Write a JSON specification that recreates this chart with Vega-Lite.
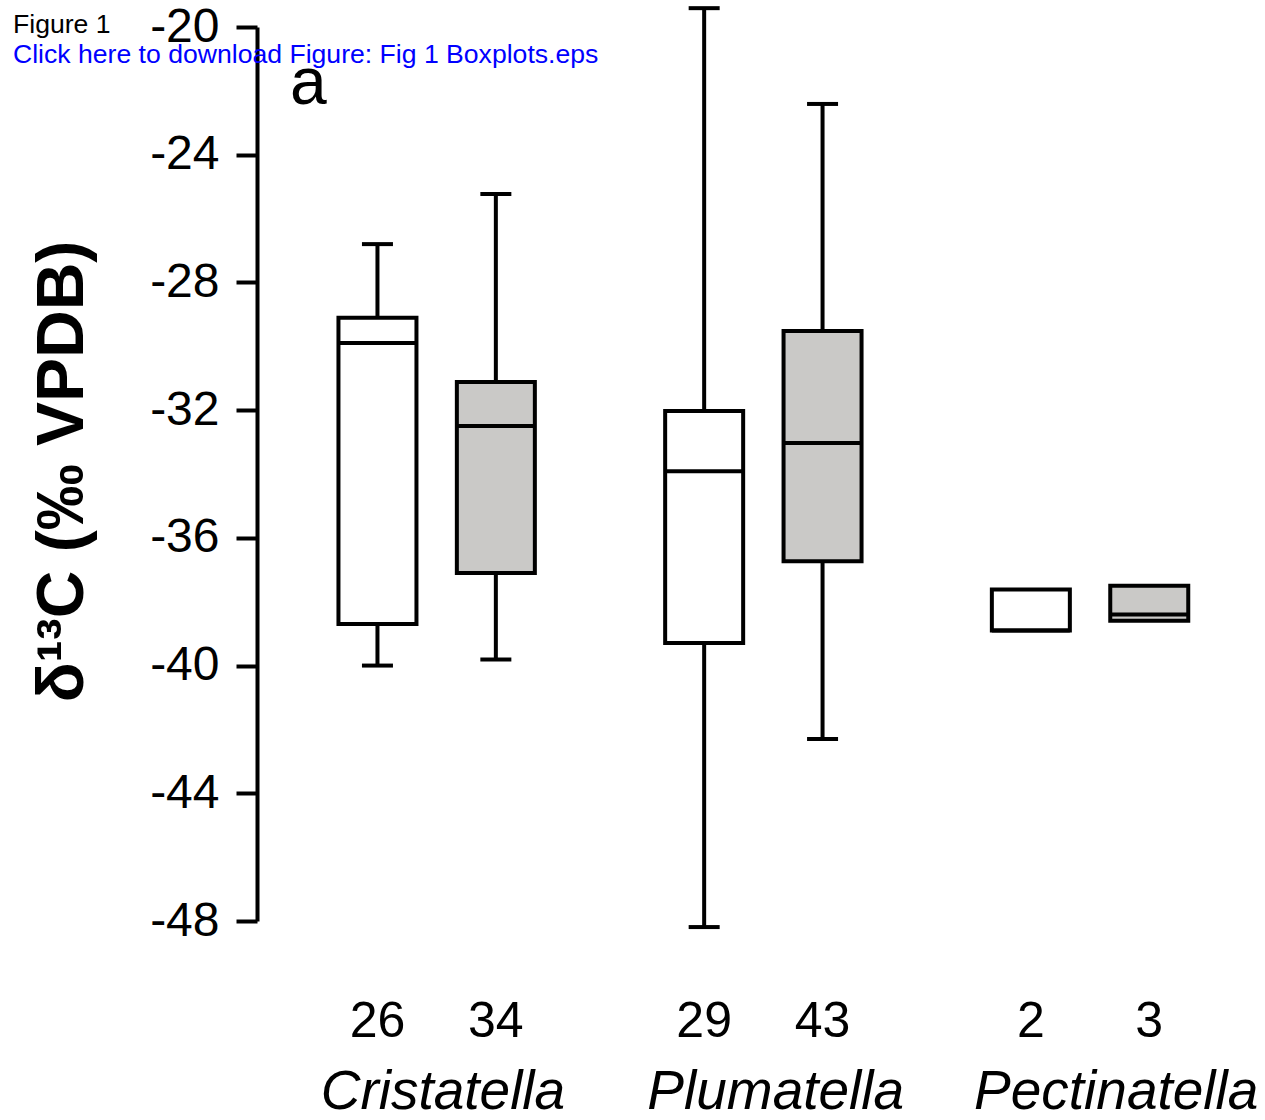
{
  "$schema": "https://vega.github.io/schema/vega-lite/v6.json",
  "autosize": {"type": "none"},
  "width": 1008,
  "height": 894,
  "padding": {"left": 257, "top": 27, "right": 0, "bottom": 199},
  "background": "white",
  "title": {
    "text": "Figure 1",
    "subtitle": "Click here to download Figure: Fig 1 Boxplots.eps",
    "anchor": "start",
    "frame": "group",
    "dx": -244,
    "dy": 70,
    "font": "Liberation Sans",
    "fontSize": 26.6,
    "fontWeight": "normal",
    "color": "black",
    "subtitleFont": "Liberation Sans",
    "subtitleFontSize": 26.6,
    "subtitleColor": "#0000ff",
    "subtitlePadding": 4
  },
  "config": {
    "view": {"stroke": null},
    "font": "Liberation Sans",
    "axisY": {
      "grid": false,
      "domainColor": "black",
      "domainWidth": 4,
      "tickColor": "black",
      "tickWidth": 4,
      "tickSize": 21,
      "labelFont": "Liberation Sans",
      "labelFontSize": 48,
      "labelColor": "black",
      "labelPadding": 17,
      "titleFont": "Liberation Sans",
      "titleFontSize": 66,
      "titleFontWeight": "bold",
      "titleColor": "black",
      "titlePadding": 53,
      "titleY": 444
    },
    "axisX": {
      "grid": false,
      "domain": false,
      "ticks": false,
      "tickSize": 0,
      "labelFont": "Liberation Sans",
      "labelFontStyle": "italic",
      "labelFontSize": 55,
      "labelColor": "black",
      "labelAngle": 0,
      "labelBaseline": "alphabetic",
      "labelPadding": 187,
      "labelLimit": 0,
      "labelOverlap": false
    }
  },
  "datasets": {
    "boxes": [
      {"genus": "Cristatella", "group": "A", "n": 26, "lo": -40.0, "q1": -38.7, "median": -29.9, "q3": -29.11, "hi": -26.8},
      {"genus": "Cristatella", "group": "B", "n": 34, "lo": -39.81, "q1": -37.1, "median": -32.5, "q3": -31.12, "hi": -25.23},
      {"genus": "Plumatella", "group": "A", "n": 29, "lo": -48.19, "q1": -39.29, "median": -33.91, "q3": -32.03, "hi": -19.41},
      {"genus": "Plumatella", "group": "B", "n": 43, "lo": -42.3, "q1": -36.73, "median": -33.03, "q3": -29.52, "hi": -22.41},
      {"genus": "Pectinatella", "group": "A", "n": 2, "lo": null, "q1": -38.9, "median": -38.9, "q3": -37.62, "hi": null},
      {"genus": "Pectinatella", "group": "B", "n": 3, "lo": null, "q1": -38.6, "median": -38.4, "q3": -37.5, "hi": null}
    ],
    "panel": [{"label": "a"}]
  },
  "layer": [
    {
      "data": {"name": "boxes"},
      "transform": [{"filter": "isValid(datum.lo)"}],
      "mark": {"type": "rule", "color": "black", "strokeWidth": 4},
      "encoding": {
        "x": {"field": "genus", "type": "nominal", "sort": ["Cristatella", "Plumatella", "Pectinatella"], "title": null, "scale": {"paddingInner": 0.2752, "paddingOuter": 0.1803, "align": 0.52}, "axis": {"labelAlign": "left", "labelOffset": -116, "labelFontStyle": "italic", "labelFontSize": 55, "labelBaseline": "alphabetic", "labelPadding": 187, "labelLimit": 0, "labelOverlap": false}},
        "xOffset": {"field": "group", "type": "nominal", "sort": ["A", "B"], "scale": {"paddingInner": 0.3412, "paddingOuter": 0.1706}},
        "y": {"field": "lo", "type": "quantitative", "title": "δ¹³C (‰ VPDB)", "scale": {"domain": [-48, -20], "nice": false, "zero": false}, "axis": {"values": [-48, -44, -40, -36, -32, -28, -24, -20], "labelExpr": "'-' + abs(datum.value)"}},
        "y2": {"field": "hi"}
      }
    },
    {
      "data": {"name": "boxes"},
      "transform": [{"filter": "isValid(datum.lo)"}],
      "mark": {"type": "tick", "orient": "horizontal", "color": "black", "size": 31, "thickness": 4, "opacity": 1},
      "encoding": {
        "x": {"field": "genus", "type": "nominal", "sort": ["Cristatella", "Plumatella", "Pectinatella"], "title": null},
        "xOffset": {"field": "group", "type": "nominal", "sort": ["A", "B"]},
        "y": {"field": "lo", "type": "quantitative", "title": "δ¹³C (‰ VPDB)", "scale": {"domain": [-48, -20], "nice": false, "zero": false}}
      }
    },
    {
      "data": {"name": "boxes"},
      "transform": [{"filter": "isValid(datum.hi)"}],
      "mark": {"type": "tick", "orient": "horizontal", "color": "black", "size": 31, "thickness": 4, "opacity": 1},
      "encoding": {
        "x": {"field": "genus", "type": "nominal", "sort": ["Cristatella", "Plumatella", "Pectinatella"], "title": null},
        "xOffset": {"field": "group", "type": "nominal", "sort": ["A", "B"]},
        "y": {"field": "hi", "type": "quantitative", "title": "δ¹³C (‰ VPDB)", "scale": {"domain": [-48, -20], "nice": false, "zero": false}}
      }
    },
    {
      "data": {"name": "boxes"},
      "mark": {"type": "rect", "stroke": "black", "strokeWidth": 4, "opacity": 1},
      "encoding": {
        "x": {"field": "genus", "type": "nominal", "sort": ["Cristatella", "Plumatella", "Pectinatella"], "title": null},
        "xOffset": {"field": "group", "type": "nominal", "sort": ["A", "B"]},
        "y": {"field": "q1", "type": "quantitative", "title": "δ¹³C (‰ VPDB)", "scale": {"domain": [-48, -20], "nice": false, "zero": false}},
        "y2": {"field": "q3"},
        "fill": {"field": "group", "type": "nominal", "scale": {"domain": ["A", "B"], "range": ["#ffffff", "#cac9c7"]}, "legend": null}
      }
    },
    {
      "data": {"name": "boxes"},
      "mark": {"type": "tick", "orient": "horizontal", "color": "black", "size": 78, "thickness": 4, "opacity": 1},
      "encoding": {
        "x": {"field": "genus", "type": "nominal", "sort": ["Cristatella", "Plumatella", "Pectinatella"], "title": null},
        "xOffset": {"field": "group", "type": "nominal", "sort": ["A", "B"]},
        "y": {"field": "median", "type": "quantitative", "title": "δ¹³C (‰ VPDB)", "scale": {"domain": [-48, -20], "nice": false, "zero": false}}
      }
    },
    {
      "data": {"name": "boxes"},
      "mark": {"type": "text", "font": "Liberation Sans", "fontSize": 50, "align": "center", "baseline": "alphabetic", "color": "black"},
      "encoding": {
        "x": {"field": "genus", "type": "nominal", "sort": ["Cristatella", "Plumatella", "Pectinatella"], "title": null},
        "xOffset": {"field": "group", "type": "nominal", "sort": ["A", "B"]},
        "y": {"datum": -51.62, "type": "quantitative", "scale": {"domain": [-48, -20], "nice": false, "zero": false}},
        "text": {"field": "n", "type": "nominal"}
      }
    },
    {
      "data": {"name": "panel"},
      "mark": {"type": "text", "font": "Liberation Sans", "fontSize": 66, "align": "center", "baseline": "alphabetic", "color": "black", "dx": -10},
      "encoding": {
        "x": {"datum": "Cristatella", "type": "nominal", "bandPosition": 0},
        "y": {"datum": -22.41, "type": "quantitative", "scale": {"domain": [-48, -20], "nice": false, "zero": false}},
        "text": {"field": "label", "type": "nominal"}
      }
    }
  ]
}
